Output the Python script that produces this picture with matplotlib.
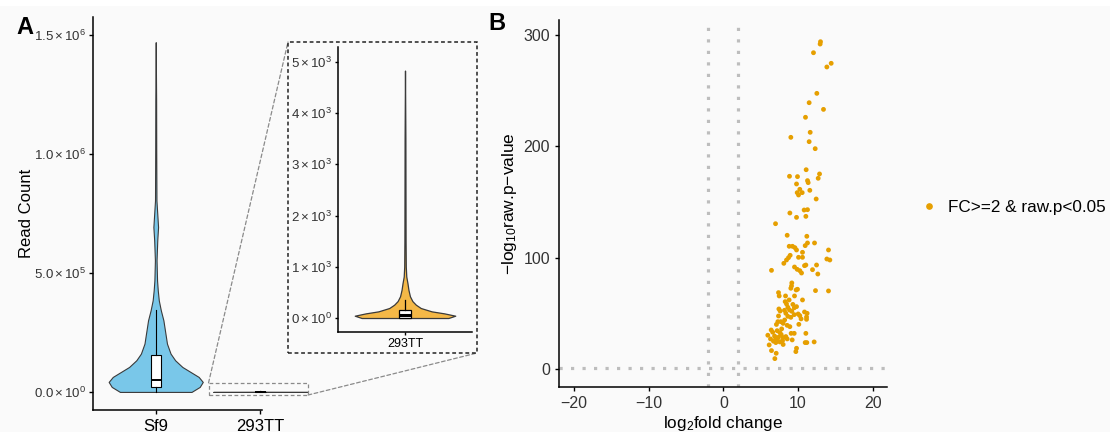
import matplotlib
matplotlib.use('Agg')
import matplotlib.pyplot as plt
from matplotlib.patches import Rectangle, ConnectionPatch
from matplotlib.lines import Line2D

plt.rcParams['font.family'] = ['Liberation Sans', 'DejaVu Sans']
plt.rcParams['mathtext.fontset'] = 'custom'
plt.rcParams['mathtext.rm'] = 'Liberation Sans'
plt.rcParams['mathtext.it'] = 'Liberation Sans:italic'
plt.rcParams['mathtext.bf'] = 'Liberation Sans:bold'

# ---------------- Panel A data ----------------
categories = ['Sf9', '293TT']

# violin profiles: read-count levels and relative density (half width)
sf9_levels = [0, 21000, 42000, 63000, 84000, 105000, 133000, 161000, 203000, 245000,
              301000, 343000, 385000, 427000, 469000, 553000, 637000, 693000, 749000,
              805000, 1015000, 1225000, 1470000]
sf9_density = [35, 43, 46, 42, 34, 26, 19, 14.5, 11, 9.5,
               7.5, 5, 3, 2, 1.3, 0.8, 1.5, 2.3, 1.5,
               0.7, 0.5, 0.4, 0]
sf9_box = dict(whislo=0, q1=21000, med=52000, q3=154000, whishi=343000)

tt_levels = [0, 45, 90, 130, 195, 260, 330, 425, 550, 680, 810, 1000, 1500, 2500, 3500, 4830]
tt_density = [44, 51, 40, 27, 16, 11, 7.5, 5, 3.5, 2.5, 1.3, 0.8, 0.6, 0.5, 0.4, 0]
tt_box = dict(whislo=0, q1=10, med=60, q3=155, whishi=358)

main_yticks = [0, 500000, 1000000, 1500000]
main_yticklabels = [r'$0.0\times10^{0}$', r'$5.0\times10^{5}$',
                    r'$1.0\times10^{6}$', r'$1.5\times10^{6}$']
inset_yticks = [0, 1000, 2000, 3000, 4000, 5000]
inset_yticklabels = [r'$0\times10^{0}$', r'$1\times10^{3}$', r'$2\times10^{3}$',
                     r'$3\times10^{3}$', r'$4\times10^{3}$', r'$5\times10^{3}$']

# ---------------- Panel B data ----------------
log2fc = [13.0, 12.95, 12.06, 14.43, 13.85, 12.51, 11.48, 13.40, 10.99, 11.62,
          9.03, 11.48, 12.29, 11.08, 8.85, 9.92, 11.26, 11.35, 12.87, 12.69,
          9.79, 10.23, 11.57, 9.88, 10.55, 10.06, 12.42, 10.81, 11.26, 8.90,
          11.04, 9.79, 6.98, 8.54, 11.17, 12.20, 11.26, 10.95, 8.81, 9.25,
          9.57, 9.79, 10.59, 14.07, 8.94, 8.72, 8.45, 10.06, 10.59, 13.85,
          14.25, 8.09, 11.04, 10.86, 12.47, 9.52, 9.88, 11.93, 6.44, 10.23,
          10.46, 12.64, 9.16, 9.12, 9.03, 9.74, 9.92, 12.33, 14.07, 7.38,
          7.47, 8.32, 9.52, 10.59, 8.27, 8.45, 8.63, 9.79, 7.43, 8.18,
          8.85, 9.16, 10.86, 11.21, 8.36, 9.48, 10.01, 7.38, 8.63, 9.03,
          10.23, 11.13, 11.13, 7.29, 7.69, 8.00, 8.54, 8.90, 10.10, 6.40,
          7.20, 7.56, 7.74, 5.95, 6.85, 7.38, 8.00, 8.36, 9.07, 9.48,
          11.04, 6.31, 7.20, 7.56, 7.92, 8.54, 6.13, 7.02, 10.95, 11.17,
          12.15, 6.44, 7.07, 9.79, 9.70, 6.89, 9.21,
          7.8, 8.2, 6.6, 7.1, 8.8, 9.3, 7.0, 6.7, 8.0, 9.5, 10.4, 7.6]
neglog10p = [294.0, 291.9, 284.1, 274.6, 271.3, 247.6, 239.2, 233.2, 226.1, 212.6,
             208.1, 204.2, 197.9, 179.0, 173.1, 172.8, 169.2, 167.4, 175.2, 171.3,
             166.2, 161.4, 160.5, 158.4, 158.4, 156.3, 152.7, 142.8, 143.1, 140.1,
             137.1, 136.2, 130.5, 120.1, 119.2, 113.2, 113.2, 110.8, 110.2, 110.2,
             109.0, 106.9, 104.8, 106.9, 102.1, 100.0, 97.9, 100.3, 100.3, 98.8,
             97.9, 94.9, 93.4, 92.8, 93.4, 91.6, 89.5, 89.2, 88.6, 88.3,
             86.2, 85.3, 77.3, 74.6, 72.5, 71.0, 71.6, 70.4, 70.1, 68.6,
             65.6, 65.6, 65.6, 62.0, 60.5, 58.4, 55.4, 56.0, 53.9, 52.7,
             53.0, 51.8, 51.2, 50.0, 50.0, 48.8, 49.4, 47.6, 47.3, 46.4,
             47.9, 46.7, 44.6, 42.5, 42.5, 41.0, 39.2, 38.0, 40.1, 35.0,
             34.4, 32.6, 30.9, 30.3, 29.6, 28.5, 28.2, 29.1, 32.0, 32.0,
             32.0, 27.0, 26.1, 24.3, 25.5, 27.0, 21.6, 23.7, 23.7, 23.7,
             24.3, 16.5, 14.1, 18.6, 15.6, 9.3, 26.1,
             36.0, 44.0, 33.0, 40.0, 62.0, 58.0, 28.0, 25.0, 22.0, 55.0, 45.0, 52.0]
fc_cut = 2
p_cut_log = 1.30103
b_xticks = [-20, -10, 0, 10, 20]
b_yticks = [0, 100, 200, 300]
legend_label = 'FC>=2 & raw.p<0.05'

# ---------------- styling ----------------
BG = '#FAFAFA'
SF9_COL = '#79C7E9'
TT_COL = '#F4B847'
PT_COL = '#E69F00'
TICK_COL = '#333333'
W, H = 1110, 432

fig = plt.figure(figsize=(W / 100, H / 100), dpi=100, facecolor=BG)


def fx(px):
    return px / W


def fy(py):
    return 1 - py / H


def style_axes(ax, lw=1.1):
    ax.set_facecolor('none')
    for s in ['top', 'right']:
        ax.spines[s].set_visible(False)
    for s in ['left', 'bottom']:
        ax.spines[s].set_linewidth(lw)
        ax.spines[s].set_color('black')
    ax.tick_params(colors='black', labelcolor=TICK_COL, width=lw * 0.9, length=3)


def draw_violin(ax, pos, levels, density, color, box, boxw, lw, medlw):
    m = max(density)
    hw = [0.45 * d / m for d in density]
    left = [pos - h for h in hw]
    right = [pos + h for h in hw]
    ax.fill_betweenx(levels, left, right, facecolor=color, edgecolor='#3a3a3a',
                     linewidth=lw, zorder=2)
    stats = dict(box)
    stats['fliers'] = []
    ax.bxp([stats], positions=[pos], widths=boxw, patch_artist=True, showcaps=False,
           showfliers=False,
           boxprops=dict(facecolor='white', edgecolor='black', linewidth=lw),
           medianprops=dict(color='black', linewidth=medlw),
           whiskerprops=dict(color='black', linewidth=lw), zorder=3)


# white strip at very top
fig.add_artist(Rectangle((0, fy(6)), 1, 6 / H, transform=fig.transFigure,
                         facecolor='white', edgecolor='none', zorder=-5))

# ---- Panel A main ----
axA = fig.add_axes([fx(93), fy(410), fx(323 - 93), (410 - 17) / H])
style_axes(axA)
draw_violin(axA, 1, sf9_levels, sf9_density, SF9_COL, sf9_box, 0.1, 0.8, 1.4)
draw_violin(axA, 2, tt_levels, tt_density, TT_COL, tt_box, 0.1, 0.8, 1.4)
axA.set_xlim(0.4, 2.6)
axA.set_ylim(-76000, 1576000)
axA.set_xticks([1, 2])
axA.set_xticklabels(categories, fontsize=12, color='black')
axA.set_yticks(main_yticks)
axA.set_yticklabels(main_yticklabels, fontsize=9.5)
axA.tick_params(axis='y', pad=2)
axA.spines['bottom'].set_bounds(0.4, 2.02)
axA.set_ylabel('Read Count', fontsize=12, color='black')
axA.yaxis.set_label_coords(-0.258, 0.5)
# small dashed zoom rectangle
axA.add_patch(Rectangle((1.505, -13000), 0.952, 51000, facecolor='none',
                        edgecolor='#8A8A8A', linewidth=0.9, linestyle=(0, (3, 2)),
                        zorder=4))

# ---- Inset ----
fig.add_artist(Rectangle((fx(288), fy(353)), fx(189), 311 / H, transform=fig.transFigure,
                         facecolor='none', edgecolor='#222222', linewidth=1.1,
                         linestyle=(0, (2.5, 1.8)), zorder=5))
axI = fig.add_axes([fx(338), fy(332), fx(472 - 338), (332 - 47) / H])
style_axes(axI)
draw_violin(axI, 1, tt_levels, tt_density, TT_COL, tt_box, 0.1, 0.9, 2.2)
axI.set_xlim(0.4, 1.6)
axI.set_ylim(-273, 5290)
axI.set_xticks([1])
axI.set_xticklabels(['293TT'], fontsize=9, color='black')
axI.set_yticks(inset_yticks)
axI.set_yticklabels(inset_yticklabels, fontsize=9.5)
axI.tick_params(length=2.5, pad=2)

for xyA, xyB in [((1.505, 38000), (fx(288), fy(42))),
                 ((2.457, -13000), (fx(477), fy(353)))]:
    con = ConnectionPatch(xyA=xyA, coordsA=axA.transData, xyB=xyB,
                          coordsB=fig.transFigure, color='#8A8A8A', linewidth=0.9,
                          linestyle=(0, (3, 2)), zorder=4)
    fig.add_artist(con)

fig.text(fx(16), fy(16), 'A', fontsize=17, fontweight='bold', va='top', ha='left')

# ---- Panel B ----
axB = fig.add_axes([fx(559), fy(387), fx(887 - 559), (387 - 20) / H])
style_axes(axB)
dot = dict(color='#BDBDBD', linewidth=2.3, linestyle=(0, (1, 2.6)), zorder=1)
axB.axvline(-fc_cut, **dot)
axB.axvline(fc_cut, **dot)
axB.axhline(p_cut_log, **dot)
axB.scatter(log2fc, neglog10p, s=12, color=PT_COL, edgecolors='none', zorder=3)
axB.set_xlim(-22, 21.9)
axB.set_ylim(-16.2, 313.5)
axB.set_xticks(b_xticks)
axB.set_xticklabels([str(v).replace('-', '\u2212') for v in b_xticks], fontsize=11.5)
axB.set_yticks(b_yticks)
axB.set_yticklabels([str(v) for v in b_yticks], fontsize=11.5)
axB.set_xlabel(r'$\mathrm{log}_{2}$fold change', fontsize=12.3, color='black', labelpad=2)
axB.set_ylabel(r'$-\mathrm{log}_{10}$raw.p$-$value', fontsize=12.5, color='black', labelpad=3)
fig.text(fx(488), fy(12), 'B', fontsize=17, fontweight='bold', va='top', ha='left')

handle = Line2D([], [], marker='o', linestyle='', color=PT_COL, markersize=3.8)
fig.legend([handle], [legend_label], loc='center left', bbox_to_anchor=(fx(905), fy(207)),
           frameon=False, fontsize=12.3, handlelength=1.0, handletextpad=0.6,
           labelcolor='black')

fig.savefig('out.png', dpi=100, facecolor=BG)
